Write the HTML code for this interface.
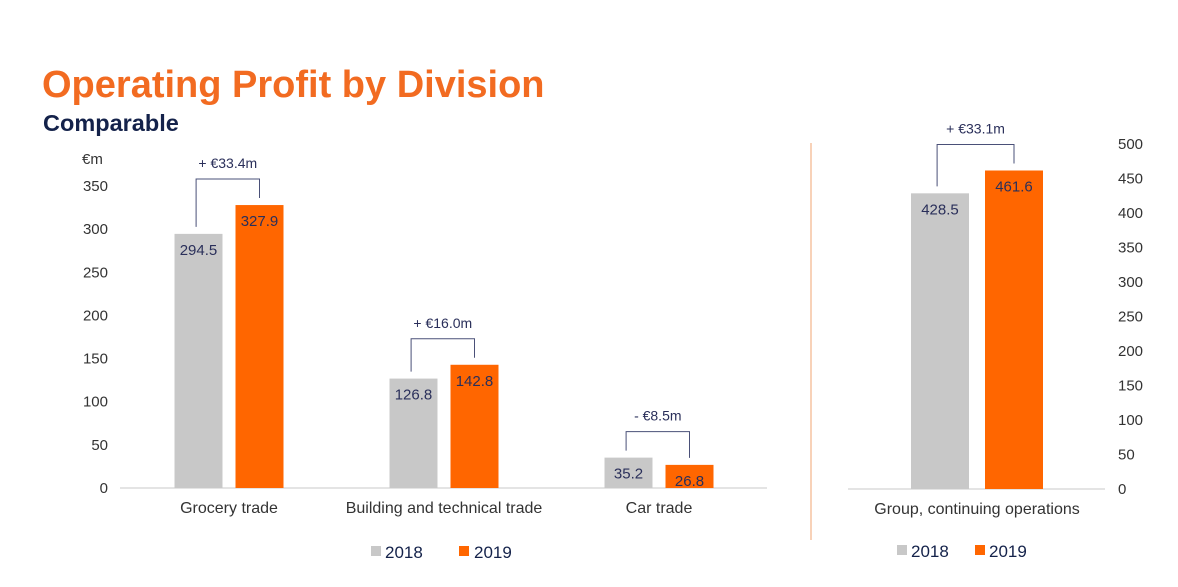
<!DOCTYPE html>
<html><head><meta charset="utf-8"><style>
body{margin:0;width:1178px;height:587px;background:#fff;overflow:hidden;font-family:"Liberation Sans",sans-serif}
svg{position:absolute;left:0;top:0}
</style></head><body>
<svg width="1178" height="587" viewBox="0 0 1178 587" id="chart">
<text x="42" y="97" font-size="38" font-weight="bold" fill="#f26b21">Operating Profit by Division</text>
<text x="43" y="131" font-size="23.5" font-weight="bold" fill="#14224a">Comparable</text>
<text x="82" y="164" font-size="15" fill="#333">€m</text>
<line x1="811" y1="143" x2="811" y2="540" stroke="#f4b58a" stroke-width="1.2"/>
<g id="left"></g><g id="right"></g>
<g>
<rect x="371" y="546" width="10" height="10" fill="#c8c8c8"/>
<text x="385" y="558" font-size="17" fill="#14224a">2018</text>
<rect x="459" y="546" width="10" height="10" fill="#ff6600"/>
<text x="474" y="558" font-size="17" fill="#14224a">2019</text>
</g>
<g>
<rect x="897" y="545" width="10" height="10" fill="#c8c8c8"/>
<text x="911" y="557" font-size="17" fill="#14224a">2018</text>
<rect x="975" y="545" width="10" height="10" fill="#ff6600"/>
<text x="989" y="557" font-size="17" fill="#14224a">2019</text>
</g>
</svg>
<script>
const categories = ["Grocery trade","Building and technical trade","Car trade"];
const values2018 = [294.5, 126.8, 35.2];
const values2019 = [327.9, 142.8, 26.8];
const deltaLabels = ["+ €33.4m","+ €16.0m","- €8.5m"];
const leftTicks = [0,50,100,150,200,250,300,350];
const groupCategory = ["Group, continuing operations"];
const group2018 = [428.5];
const group2019 = [461.6];
const groupDelta = ["+ €33.1m"];
const rightTicks = [0,50,100,150,200,250,300,350,400,450,500];

const NS="http://www.w3.org/2000/svg";
function mk(parent,tag,attrs,txt){const e=document.createElementNS(NS,tag);for(const k in attrs)e.setAttribute(k,attrs[k]);if(txt!==undefined)e.textContent=txt;parent.appendChild(e);return e;}

function drawPanel(g,cats,a,b,deltas,ticks,opt){
  const y=v=>opt.base-v*opt.scale;
  const x=i=>opt.x0+i*opt.step;
  const ax=mk(g,'line',{x1:opt.axX1,y1:opt.base,x2:opt.axX2,y2:opt.base,stroke:'#c8c8c8','stroke-width':1});
  
  ticks.forEach(t=>{const e=mk(g,'text',{x:opt.tickX,y:y(t)+5,'font-size':15,fill:'#333','text-anchor':opt.tickAnchor},String(t));
    });
  cats.forEach((c,i)=>{
    const cx=x(i);
    const gx=cx-opt.gap/2-opt.bw, ox=cx+opt.gap/2;
    const r1=mk(g,'rect',{x:gx,y:y(a[i]),width:opt.bw,height:a[i]*opt.scale,fill:'#c8c8c8'});
    
    const r2=mk(g,'rect',{x:ox,y:y(b[i]),width:opt.bw,height:b[i]*opt.scale,fill:'#ff6600'});
    
    const l1=mk(g,'text',{x:gx+opt.bw/2,y:y(a[i])+21,'font-size':15,fill:'#2a2f5a','text-anchor':'middle'},a[i].toFixed(1));
    
    const l2=mk(g,'text',{x:ox+opt.bw/2,y:y(b[i])+21,'font-size':15,fill:'#2a2f5a','text-anchor':'middle'},b[i].toFixed(1));
    
    const top=Math.min(y(a[i]),y(b[i]))-26;
    const lx=gx+opt.bw*0.45, rx=ox+opt.bw*0.5;
    const br=mk(g,'path',{d:`M${lx},${y(a[i])-7}V${top}H${rx}V${y(b[i])-7}`,fill:'none',stroke:'#4a5078','stroke-width':1});
    
    const dl=mk(g,'text',{x:(lx+rx)/2,y:top-11,'font-size':14,fill:'#2a2f5a','text-anchor':'middle'},deltas[i]);
    
    const cl=mk(g,'text',{x:cx,y:opt.base+25,'font-size':16,fill:'#333','text-anchor':'middle'},c);
    
  });
}
drawPanel(document.getElementById('left'),categories,values2018,values2019,deltaLabels,leftTicks,
  {base:488,scale:0.8629,x0:229,step:215,bw:48,gap:13,axX1:120,axX2:767,tickX:108,tickAnchor:'end'});
drawPanel(document.getElementById('right'),groupCategory,group2018,group2019,groupDelta,rightTicks,
  {base:489,scale:0.69,x0:977,step:0,bw:58,gap:16,axX1:848,axX2:1105,tickX:1118,tickAnchor:'start'});
</script>
</body></html>
